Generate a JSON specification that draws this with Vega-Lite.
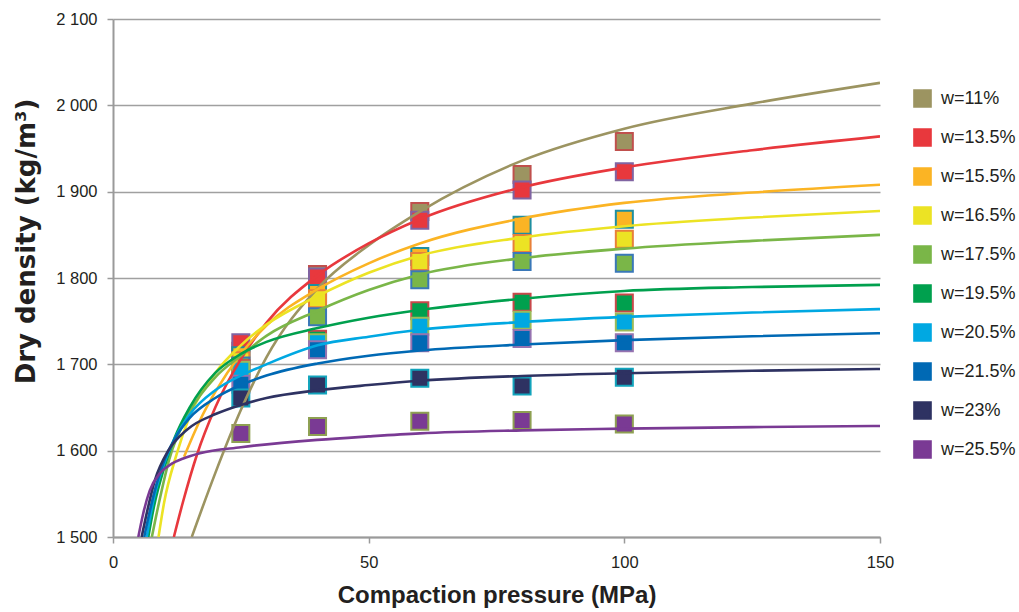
{
  "$schema": "https://vega.github.io/schema/vega-lite/v6.json",
  "width": 767,
  "height": 518,
  "autosize": "none",
  "padding": {"left": 113, "top": 19, "right": 139, "bottom": 75},
  "background": "white",
  "config": {
    "view": {"stroke": null},
    "font": "Liberation Sans",
    "axis": {
      "domainColor": "#9a9a9a",
      "domainWidth": 2,
      "tickColor": "#9a9a9a",
      "tickWidth": 1.5,
      "labelColor": "#231f20",
      "labelFontSize": 16.5,
      "labelFont": "Liberation Sans",
      "titleFont": "Liberation Sans",
      "titleFontWeight": "bold",
      "titleColor": "#231f20"
    }
  },
  "datasets": {
    "measured": [
      {"w": "w=11%", "p": 25, "rho": 1715},
      {"w": "w=11%", "p": 40, "rho": 1804},
      {"w": "w=11%", "p": 60, "rho": 1877},
      {"w": "w=11%", "p": 80, "rho": 1920},
      {"w": "w=11%", "p": 100, "rho": 1958},
      {"w": "w=13.5%", "p": 25, "rho": 1725},
      {"w": "w=13.5%", "p": 40, "rho": 1801},
      {"w": "w=13.5%", "p": 60, "rho": 1867},
      {"w": "w=13.5%", "p": 80, "rho": 1902},
      {"w": "w=13.5%", "p": 100, "rho": 1923},
      {"w": "w=15.5%", "p": 25, "rho": 1710},
      {"w": "w=15.5%", "p": 40, "rho": 1782},
      {"w": "w=15.5%", "p": 60, "rho": 1825},
      {"w": "w=15.5%", "p": 80, "rho": 1861},
      {"w": "w=15.5%", "p": 100, "rho": 1868},
      {"w": "w=16.5%", "p": 25, "rho": 1704},
      {"w": "w=16.5%", "p": 40, "rho": 1776},
      {"w": "w=16.5%", "p": 60, "rho": 1819},
      {"w": "w=16.5%", "p": 80, "rho": 1840},
      {"w": "w=16.5%", "p": 100, "rho": 1845},
      {"w": "w=17.5%", "p": 25, "rho": 1698},
      {"w": "w=17.5%", "p": 40, "rho": 1755},
      {"w": "w=17.5%", "p": 60, "rho": 1798},
      {"w": "w=17.5%", "p": 80, "rho": 1819},
      {"w": "w=17.5%", "p": 100, "rho": 1817},
      {"w": "w=19.5%", "p": 25, "rho": 1695},
      {"w": "w=19.5%", "p": 40, "rho": 1729},
      {"w": "w=19.5%", "p": 60, "rho": 1762},
      {"w": "w=19.5%", "p": 80, "rho": 1772},
      {"w": "w=19.5%", "p": 100, "rho": 1771},
      {"w": "w=20.5%", "p": 25, "rho": 1693},
      {"w": "w=20.5%", "p": 40, "rho": 1725},
      {"w": "w=20.5%", "p": 60, "rho": 1744},
      {"w": "w=20.5%", "p": 80, "rho": 1751},
      {"w": "w=20.5%", "p": 100, "rho": 1749},
      {"w": "w=21.5%", "p": 25, "rho": 1677},
      {"w": "w=21.5%", "p": 40, "rho": 1717},
      {"w": "w=21.5%", "p": 60, "rho": 1725},
      {"w": "w=21.5%", "p": 80, "rho": 1730},
      {"w": "w=21.5%", "p": 100, "rho": 1725},
      {"w": "w=23%", "p": 25, "rho": 1661},
      {"w": "w=23%", "p": 40, "rho": 1676},
      {"w": "w=23%", "p": 60, "rho": 1684},
      {"w": "w=23%", "p": 80, "rho": 1675},
      {"w": "w=23%", "p": 100, "rho": 1685},
      {"w": "w=25.5%", "p": 25, "rho": 1620},
      {"w": "w=25.5%", "p": 40, "rho": 1628},
      {"w": "w=25.5%", "p": 60, "rho": 1634},
      {"w": "w=25.5%", "p": 80, "rho": 1635},
      {"w": "w=25.5%", "p": 100, "rho": 1631}
    ],
    "trend": [
      {"w": "w=11%", "p": 15.4, "rho": 1500},
      {"w": "w=11%", "p": 20, "rho": 1574},
      {"w": "w=11%", "p": 25, "rho": 1647},
      {"w": "w=11%", "p": 30, "rho": 1708},
      {"w": "w=11%", "p": 40, "rho": 1788},
      {"w": "w=11%", "p": 50, "rho": 1838},
      {"w": "w=11%", "p": 60, "rho": 1877},
      {"w": "w=11%", "p": 80, "rho": 1936},
      {"w": "w=11%", "p": 100, "rho": 1973},
      {"w": "w=11%", "p": 125, "rho": 2002},
      {"w": "w=11%", "p": 150, "rho": 2026},

      {"w": "w=13.5%", "p": 11.9, "rho": 1500},
      {"w": "w=13.5%", "p": 13.75, "rho": 1542},
      {"w": "w=13.5%", "p": 16.4, "rho": 1595},
      {"w": "w=13.5%", "p": 20, "rho": 1650},
      {"w": "w=13.5%", "p": 25, "rho": 1706},
      {"w": "w=13.5%", "p": 30, "rho": 1748},
      {"w": "w=13.5%", "p": 40, "rho": 1803},
      {"w": "w=13.5%", "p": 50, "rho": 1840},
      {"w": "w=13.5%", "p": 60, "rho": 1868},
      {"w": "w=13.5%", "p": 80, "rho": 1905},
      {"w": "w=13.5%", "p": 100, "rho": 1928},
      {"w": "w=13.5%", "p": 125, "rho": 1948},
      {"w": "w=13.5%", "p": 150, "rho": 1964},

      {"w": "w=15.5%", "p": 13.9, "rho": 1593},
      {"w": "w=15.5%", "p": 17, "rho": 1635},
      {"w": "w=15.5%", "p": 20, "rho": 1668},
      {"w": "w=15.5%", "p": 25, "rho": 1712},
      {"w": "w=15.5%", "p": 30, "rho": 1745},
      {"w": "w=15.5%", "p": 40, "rho": 1787},
      {"w": "w=15.5%", "p": 50, "rho": 1817},
      {"w": "w=15.5%", "p": 60, "rho": 1840},
      {"w": "w=15.5%", "p": 80, "rho": 1869},
      {"w": "w=15.5%", "p": 100, "rho": 1887},
      {"w": "w=15.5%", "p": 125, "rho": 1899},
      {"w": "w=15.5%", "p": 150, "rho": 1908},

      {"w": "w=16.5%", "p": 8.9, "rho": 1500},
      {"w": "w=16.5%", "p": 10, "rho": 1540},
      {"w": "w=16.5%", "p": 12.4, "rho": 1595},
      {"w": "w=16.5%", "p": 15, "rho": 1640},
      {"w": "w=16.5%", "p": 20, "rho": 1690},
      {"w": "w=16.5%", "p": 25, "rho": 1722},
      {"w": "w=16.5%", "p": 30, "rho": 1746},
      {"w": "w=16.5%", "p": 40, "rho": 1779},
      {"w": "w=16.5%", "p": 50, "rho": 1806},
      {"w": "w=16.5%", "p": 60, "rho": 1826},
      {"w": "w=16.5%", "p": 80, "rho": 1847},
      {"w": "w=16.5%", "p": 100, "rho": 1860},
      {"w": "w=16.5%", "p": 125, "rho": 1870},
      {"w": "w=16.5%", "p": 150, "rho": 1877.6},

      {"w": "w=17.5%", "p": 7.6, "rho": 1500},
      {"w": "w=17.5%", "p": 9, "rho": 1540},
      {"w": "w=17.5%", "p": 11, "rho": 1590},
      {"w": "w=17.5%", "p": 15, "rho": 1645},
      {"w": "w=17.5%", "p": 20, "rho": 1685},
      {"w": "w=17.5%", "p": 25, "rho": 1710},
      {"w": "w=17.5%", "p": 30, "rho": 1733},
      {"w": "w=17.5%", "p": 40, "rho": 1762},
      {"w": "w=17.5%", "p": 50, "rho": 1786},
      {"w": "w=17.5%", "p": 60, "rho": 1804},
      {"w": "w=17.5%", "p": 80, "rho": 1823},
      {"w": "w=17.5%", "p": 100, "rho": 1834},
      {"w": "w=17.5%", "p": 125, "rho": 1843},
      {"w": "w=17.5%", "p": 150, "rho": 1850},

      {"w": "w=19.5%", "p": 6.9, "rho": 1500},
      {"w": "w=19.5%", "p": 8, "rho": 1535},
      {"w": "w=19.5%", "p": 10, "rho": 1580},
      {"w": "w=19.5%", "p": 12, "rho": 1614},
      {"w": "w=19.5%", "p": 15, "rho": 1650},
      {"w": "w=19.5%", "p": 20, "rho": 1690},
      {"w": "w=19.5%", "p": 25, "rho": 1712},
      {"w": "w=19.5%", "p": 30, "rho": 1726},
      {"w": "w=19.5%", "p": 40, "rho": 1742},
      {"w": "w=19.5%", "p": 50, "rho": 1754},
      {"w": "w=19.5%", "p": 60, "rho": 1763},
      {"w": "w=19.5%", "p": 80, "rho": 1776},
      {"w": "w=19.5%", "p": 100, "rho": 1785},
      {"w": "w=19.5%", "p": 125, "rho": 1789.5},
      {"w": "w=19.5%", "p": 150, "rho": 1792},

      {"w": "w=20.5%", "p": 6.6, "rho": 1500},
      {"w": "w=20.5%", "p": 8, "rho": 1545},
      {"w": "w=20.5%", "p": 10, "rho": 1585},
      {"w": "w=20.5%", "p": 12, "rho": 1613},
      {"w": "w=20.5%", "p": 15, "rho": 1642},
      {"w": "w=20.5%", "p": 20, "rho": 1670},
      {"w": "w=20.5%", "p": 25, "rho": 1687},
      {"w": "w=20.5%", "p": 30, "rho": 1700},
      {"w": "w=20.5%", "p": 40, "rho": 1722},
      {"w": "w=20.5%", "p": 50, "rho": 1732},
      {"w": "w=20.5%", "p": 60, "rho": 1740},
      {"w": "w=20.5%", "p": 80, "rho": 1749},
      {"w": "w=20.5%", "p": 100, "rho": 1755},
      {"w": "w=20.5%", "p": 125, "rho": 1760},
      {"w": "w=20.5%", "p": 150, "rho": 1764},

      {"w": "w=21.5%", "p": 6.1, "rho": 1500},
      {"w": "w=21.5%", "p": 8, "rho": 1550},
      {"w": "w=21.5%", "p": 10, "rho": 1588},
      {"w": "w=21.5%", "p": 12, "rho": 1613},
      {"w": "w=21.5%", "p": 15, "rho": 1638},
      {"w": "w=21.5%", "p": 20, "rho": 1661},
      {"w": "w=21.5%", "p": 25, "rho": 1676},
      {"w": "w=21.5%", "p": 30, "rho": 1687},
      {"w": "w=21.5%", "p": 40, "rho": 1701},
      {"w": "w=21.5%", "p": 50, "rho": 1710},
      {"w": "w=21.5%", "p": 60, "rho": 1716},
      {"w": "w=21.5%", "p": 80, "rho": 1723},
      {"w": "w=21.5%", "p": 100, "rho": 1728},
      {"w": "w=21.5%", "p": 125, "rho": 1732.5},
      {"w": "w=21.5%", "p": 150, "rho": 1736},

      {"w": "w=23%", "p": 5.6, "rho": 1500},
      {"w": "w=23%", "p": 8.2, "rho": 1566},
      {"w": "w=23%", "p": 10.8, "rho": 1600},
      {"w": "w=23%", "p": 14.4, "rho": 1624},
      {"w": "w=23%", "p": 20.3, "rho": 1643},
      {"w": "w=23%", "p": 25, "rho": 1653},
      {"w": "w=23%", "p": 30, "rho": 1661},
      {"w": "w=23%", "p": 40, "rho": 1670},
      {"w": "w=23%", "p": 50, "rho": 1676},
      {"w": "w=23%", "p": 60, "rho": 1681},
      {"w": "w=23%", "p": 80, "rho": 1686.5},
      {"w": "w=23%", "p": 100, "rho": 1689.6},
      {"w": "w=23%", "p": 125, "rho": 1692.5},
      {"w": "w=23%", "p": 150, "rho": 1694.6},

      {"w": "w=25.5%", "p": 4.95, "rho": 1500},
      {"w": "w=25.5%", "p": 5.9, "rho": 1527},
      {"w": "w=25.5%", "p": 7.2, "rho": 1554},
      {"w": "w=25.5%", "p": 9.2, "rho": 1574},
      {"w": "w=25.5%", "p": 11.5, "rho": 1585},
      {"w": "w=25.5%", "p": 13.75, "rho": 1591},
      {"w": "w=25.5%", "p": 17, "rho": 1597},
      {"w": "w=25.5%", "p": 25, "rho": 1604},
      {"w": "w=25.5%", "p": 40, "rho": 1612.5},
      {"w": "w=25.5%", "p": 50, "rho": 1616.5},
      {"w": "w=25.5%", "p": 60, "rho": 1620},
      {"w": "w=25.5%", "p": 80, "rho": 1623.5},
      {"w": "w=25.5%", "p": 100, "rho": 1625.5},
      {"w": "w=25.5%", "p": 125, "rho": 1627.3},
      {"w": "w=25.5%", "p": 150, "rho": 1628.6}
    ]
  },
  "encoding": {
    "x": {
      "field": "p",
      "type": "quantitative",
      "scale": {"domain": [0, 150], "nice": false, "zero": false},
      "axis": {
        "title": "Compaction pressure (MPa)",
        "titleFontSize": 24,
        "values": [0, 50, 100, 150],
        "grid": false,
        "labelFlush": false,
        "tickSize": 6,
        "labelPadding": 11,
        "titlePadding": 13
      }
    },
    "y": {
      "field": "rho",
      "type": "quantitative",
      "scale": {"domain": [1500, 2100], "nice": false, "zero": false},
      "axis": {
        "title": "Dry density (kg/m³)",
        "titleFont": "DejaVu Sans",
        "titleFontSize": 26,
        "titleY": 222,
        "values": [1500, 1600, 1700, 1800, 1900, 2000, 2100],
        "labelExpr": "replace(format(datum.value, ','), ',', ' ')",
        "grid": true,
        "gridColor": "#a0a0a0",
        "gridWidth": 1.6,
        "tickSize": 6,
        "labelPadding": 10,
        "titlePadding": 16
      }
    }
  },
  "layer": [
    {
      "data": {"name": "measured"},
      "mark": {"type": "square", "filled": true, "size": 290, "strokeWidth": 2, "opacity": 1, "clip": true},
      "encoding": {
        "color": {
          "field": "w",
          "type": "nominal",
          "scale": {
            "domain": ["w=11%", "w=13.5%", "w=15.5%", "w=16.5%", "w=17.5%", "w=19.5%", "w=20.5%", "w=21.5%", "w=23%", "w=25.5%"],
            "range": ["#9c9461", "#e8383d", "#fbb424", "#ece324", "#7ab648", "#00a04e", "#00a8e2", "#0069b4", "#2e3262", "#7a3a94"]
          },
          "legend": {
            "title": null,
            "orient": "none",
            "legendX": 800,
            "legendY": 70,
            "symbolType": "square",
            "symbolSize": 260,
            "symbolStrokeWidth": 2.5,
            "labelFontSize": 18,
            "labelColor": "#231f20",
            "labelOffset": 9,
            "rowPadding": 12
          }
        },
        "stroke": {
          "field": "w",
          "type": "nominal",
          "scale": {
            "domain": ["w=11%", "w=13.5%", "w=15.5%", "w=16.5%", "w=17.5%", "w=19.5%", "w=20.5%", "w=21.5%", "w=23%", "w=25.5%"],
            "range": ["#c0504d", "#8064a2", "#1f8fa0", "#e8803a", "#3a78b8", "#c8484a", "#9bbb59", "#9673b0", "#12a4bc", "#8ea052"]
          }
        }
      }
    },
    {
      "data": {"name": "trend"},
      "mark": {"type": "line", "strokeWidth": 2.6, "interpolate": "monotone", "clip": true},
      "encoding": {
        "color": {"field": "w", "type": "nominal"},
        "detail": {"field": "w", "type": "nominal"}
      }
    }
  ]
}
